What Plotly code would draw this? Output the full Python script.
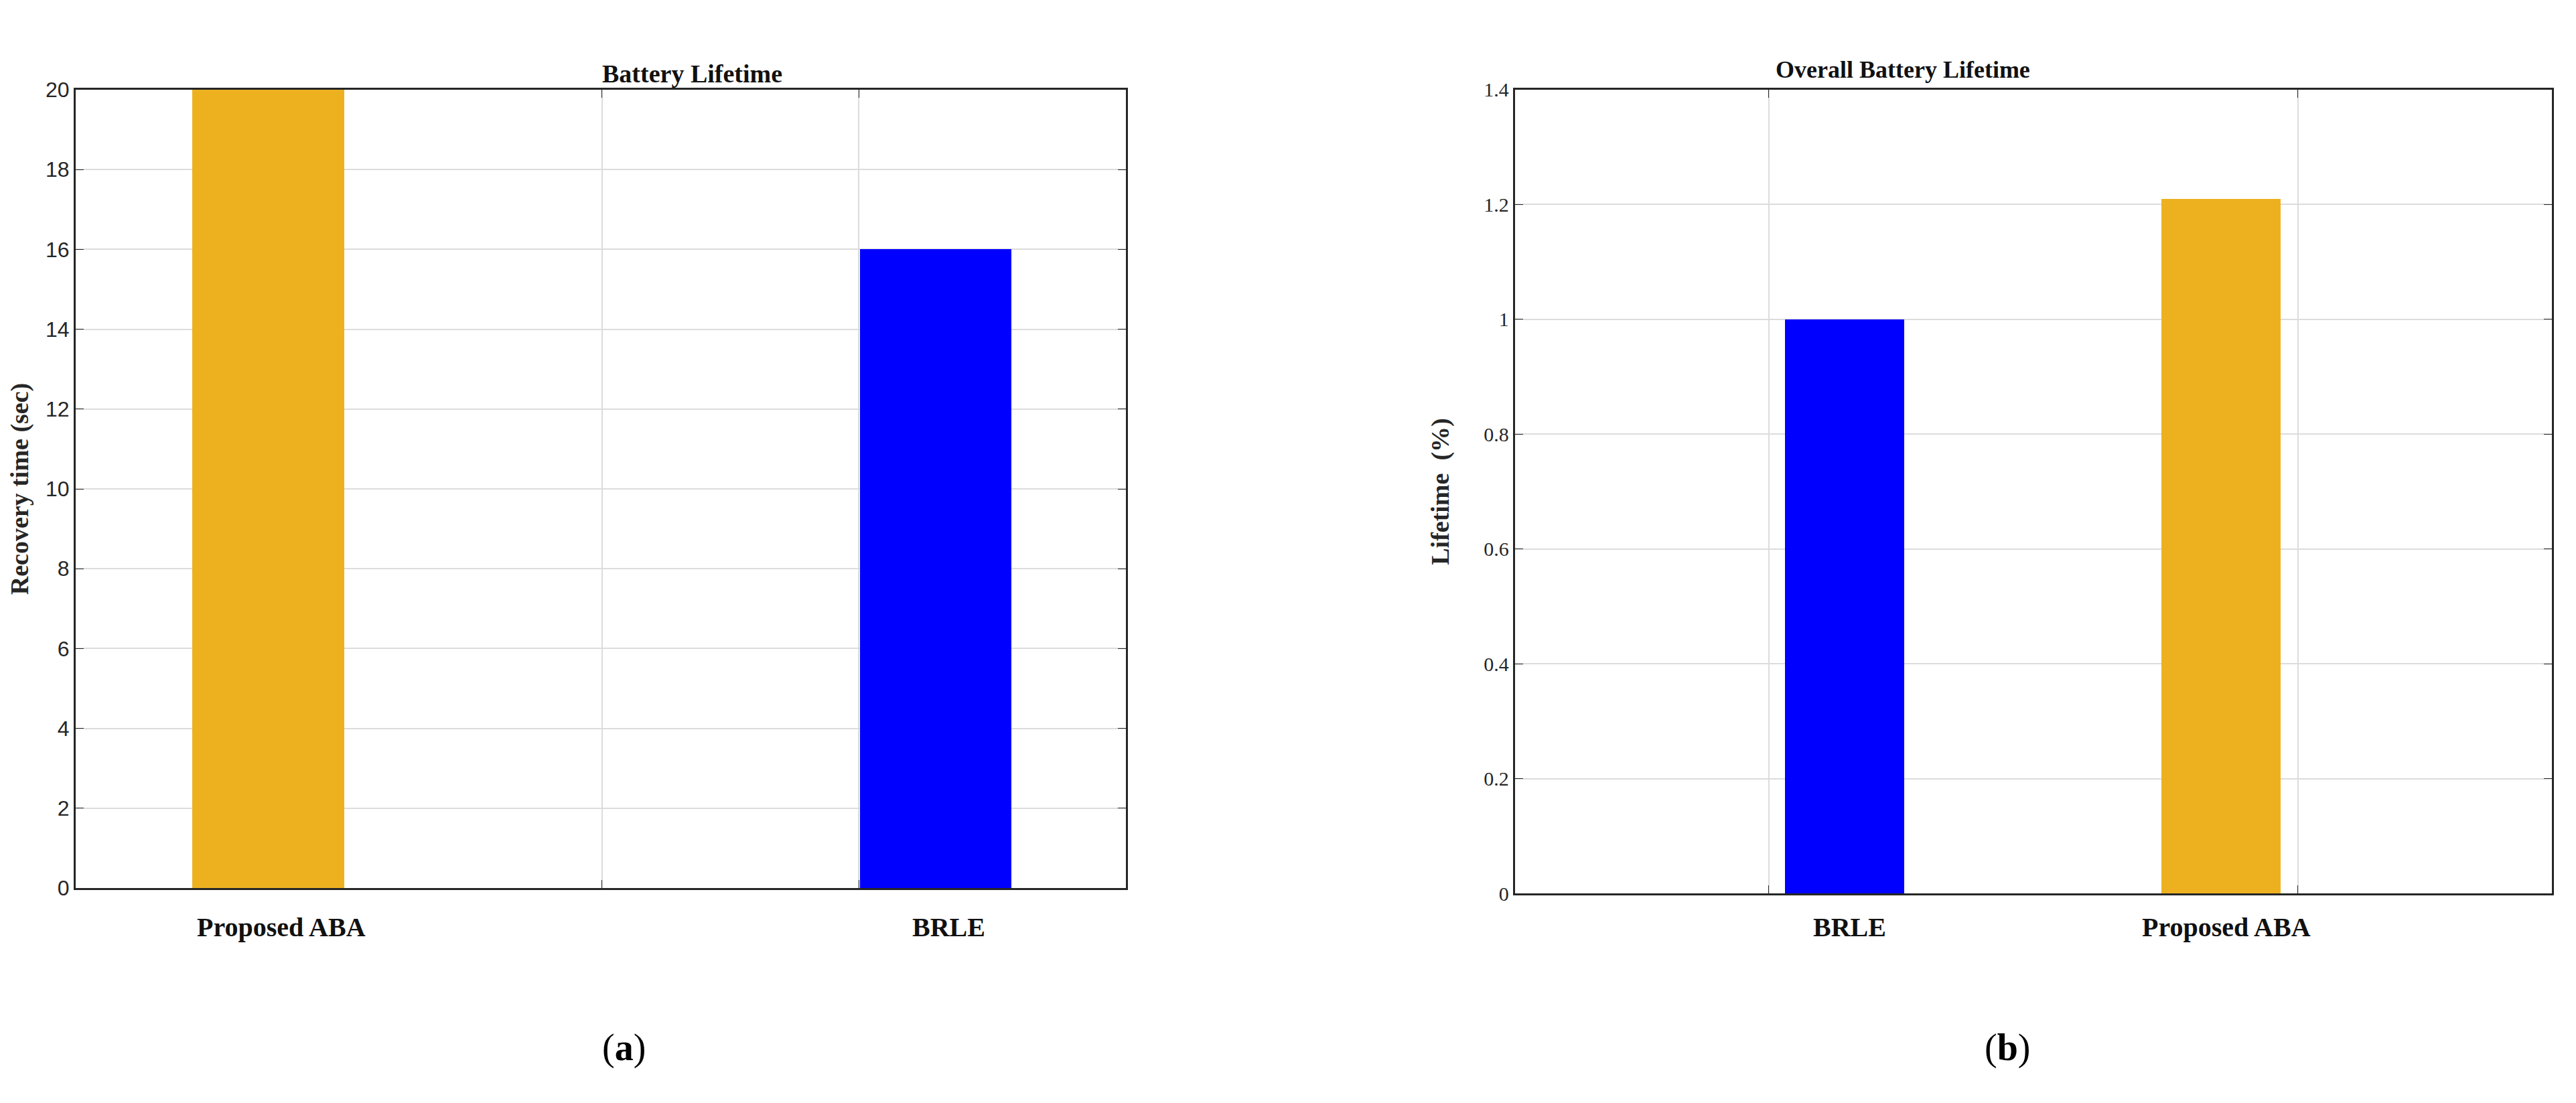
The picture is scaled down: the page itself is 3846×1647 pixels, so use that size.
import plotly.graph_objects as go

# Panel (a)
a_labels = ["Proposed ABA", "BRLE"]
a_pos = [0.7, 3.3]
a_values = [20, 16]
a_colors = ["#EDB120", "#0000FF"]
a_yticks = [0, 2, 4, 6, 8, 10, 12, 14, 16, 18, 20]

# Panel (b)
b_labels = ["BRLE", "Proposed ABA"]
b_pos = [1.143, 1.854]
b_values = [1.0, 1.21]
b_colors = ["#0000FF", "#EDB120"]
b_yticks = [0, 0.2, 0.4, 0.6, 0.8, 1.0, 1.2, 1.4]
b_yticktext = ["0", "0.2", "0.4", "0.6", "0.8", "1", "1.2", "1.4"]

serif = "Liberation Serif"
fig = go.Figure()
fig.add_trace(go.Bar(x=a_pos, y=a_values, width=0.59, marker=dict(color=a_colors, line_width=0),
                     xaxis="x", yaxis="y", showlegend=False, cliponaxis=True))
fig.add_trace(go.Bar(x=b_pos, y=b_values, width=0.225, marker=dict(color=b_colors, line_width=0),
                     xaxis="x2", yaxis="y2", showlegend=False, cliponaxis=True))

grid = "#dcdcdc"
common = dict(showline=True, linecolor="#262626", linewidth=3, mirror="ticks", ticks="inside",
              ticklen=12, tickcolor="#262626", showgrid=True, gridcolor=grid, gridwidth=2, zeroline=False)
fig.update_layout(
    width=3846, height=1647, margin=dict(l=0, r=0, t=0, b=0),
    plot_bgcolor="white", paper_bgcolor="white", bargap=0,
    xaxis=dict(domain=[0.0273, 0.435], range=[-0.05, 4.04], tickvals=[2, 3], showticklabels=False,
               anchor="y", **common),
    yaxis=dict(domain=[0.193, 0.933], range=[0, 20], tickvals=a_yticks, anchor="x",
               tickfont=dict(family="Liberation Sans", size=32, color="#262626"),
               title=dict(text="<b>Recovery time (sec)</b>", font=dict(family=serif, size=38, color="#262626"), standoff=18),
               **common),
    xaxis2=dict(domain=[0.586, 0.9886], range=[0.52, 2.48], tickvals=[1, 2], showticklabels=False,
                anchor="y2", **common),
    yaxis2=dict(domain=[0.188, 0.933], range=[0, 1.4], tickvals=b_yticks, ticktext=b_yticktext, anchor="x2",
                tickfont=dict(family=serif, size=30, color="#262626"),
                title=dict(text="<b>Lifetime  (%)</b>", font=dict(family=serif, size=38, color="#262626"), standoff=40),
                **common),
)

ann = []
for lab, p in zip(a_labels, a_pos):
    ann.append(dict(x=p + 0.05, y=0.172, xref="x", yref="paper", text=f"<b>{lab}</b>", showarrow=False,
                    yanchor="top", font=dict(family=serif, size=40, color="#111")))
for lab, p in zip(b_labels, b_pos):
    ann.append(dict(x=p + 0.01, y=0.172, xref="x2", yref="paper", text=f"<b>{lab}</b>", showarrow=False,
                    yanchor="top", font=dict(family=serif, size=40, color="#111")))
ann.append(dict(x=0.2311, y=0.962, xref="paper", yref="paper", text="<b>Battery Lifetime</b>", showarrow=False,
                font=dict(family=serif, size=38, color="#111")))
ann.append(dict(x=0.7866, y=0.965, xref="paper", yref="paper", text="<b>Overall Battery Lifetime</b>", showarrow=False,
                font=dict(family=serif, size=36, color="#111")))
ann.append(dict(x=0.2311, y=0.024, xref="paper", yref="paper", text="(<b>a</b>)", showarrow=False,
                font=dict(family=serif, size=56, color="black")))
ann.append(dict(x=0.7866, y=0.024, xref="paper", yref="paper", text="(<b>b</b>)", showarrow=False,
                font=dict(family=serif, size=56, color="black")))
fig.update_layout(annotations=ann)
fig.write_html("out.html")
